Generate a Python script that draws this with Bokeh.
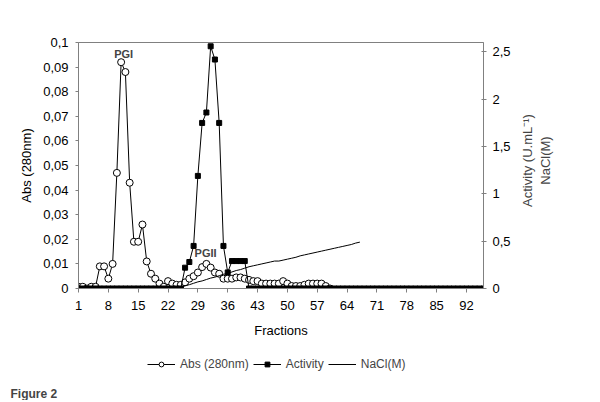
import math
from bokeh.plotting import figure
from bokeh.layouts import column, row
from bokeh.models import Range1d, LinearAxis, FixedTicker, Legend, LegendItem, Label
from bokeh.embed import file_html
from bokeh.resources import INLINE

# ---- data ----
fractions_abs = list(range(1, 61))
abs_280 = [0.0007, 0.0007, 0.0, 0.0007, 0.0007, 0.009, 0.009, 0.004, 0.010, 0.047,
           0.092, 0.088, 0.043, 0.019, 0.019, 0.026, 0.011, 0.006, 0.004, 0.002,
           0.0007, 0.003, 0.002, 0.0015, 0.0015, 0.0025, 0.004, 0.005, 0.0065, 0.0087,
           0.010, 0.0085, 0.0065, 0.006, 0.004, 0.004, 0.004, 0.0045, 0.0045, 0.004,
           0.0035, 0.003, 0.003, 0.002, 0.002, 0.002, 0.002, 0.002, 0.003, 0.002,
           0.001, 0.001, 0.001, 0.0015, 0.002, 0.002, 0.002, 0.002, 0.001, 0.0]

fractions_act = list(range(1, 97))
activity = ([0.0] * 25 +
            [0.22, 0.28, 0.45, 1.19, 1.75, 1.86, 2.56, 2.42, 1.75, 0.45,
             0.17, 0.29, 0.29, 0.29, 0.29] +
            [0.0] * 56)

fractions_nacl = list(range(24, 68))
nacl = [0.0, 0.015, 0.03, 0.04, 0.055, 0.07, 0.08, 0.095, 0.11, 0.12,
        0.135, 0.15, 0.16, 0.175, 0.19, 0.20, 0.215, 0.23, 0.24, 0.25,
        0.26, 0.27, 0.28, 0.29, 0.29, 0.30, 0.31, 0.32, 0.33, 0.345,
        0.355, 0.365, 0.375, 0.385, 0.395, 0.405, 0.415, 0.425, 0.435, 0.445,
        0.455, 0.465, 0.48, 0.49]

x_ticks = [1, 8, 15, 22, 29, 36, 43, 50, 57, 64, 71, 78, 85, 92]
abs_ticks = [0, 0.01, 0.02, 0.03, 0.04, 0.05, 0.06, 0.07, 0.08, 0.09, 0.1]
abs_tick_labels = ["0", "0,01", "0,02", "0,03", "0,04", "0,05", "0,06", "0,07", "0,08", "0,09", "0,1"]
act_ticks = [0, 0.5, 1, 1.5, 2, 2.5]
act_tick_labels = ["0", "0,5", "1", "1,5", "2", "2,5"]
series_names = ["Abs (280nm)", "Activity", "NaCl(M)"]

FONT = "Liberation Sans"
AXIS_GRAY = "#808080"

MAIN_W, MAIN_H = 518, 344
TOTAL_W = 596

p = figure(width=MAIN_W, height=MAIN_H, output_backend="svg", toolbar_location=None,
           x_range=Range1d(1, 96), y_range=Range1d(0, 0.1),
           min_border_left=78, min_border_right=35, min_border_top=42, min_border_bottom=56)
p.extra_y_ranges = {"act": Range1d(0, 2.6)}
p.grid.visible = False
p.outline_line_color = AXIS_GRAY
p.background_fill_color = "white"
p.border_fill_color = "white"

def style_axis(ax):
    ax.axis_line_color = AXIS_GRAY
    ax.major_tick_line_color = AXIS_GRAY
    ax.minor_tick_line_color = None
    ax.major_label_text_font = FONT
    ax.major_label_text_font_size = "13px"
    ax.major_label_text_color = "black"
    ax.axis_label_text_font = FONT
    ax.axis_label_text_font_size = "13px"
    ax.axis_label_text_font_style = "normal"
    ax.axis_label_text_color = "black"

xa = p.xaxis[0]
style_axis(xa)
xa.ticker = FixedTicker(ticks=x_ticks)
xa.major_tick_in = 0
xa.major_tick_out = 4
xa.major_label_standoff = 8
xa.axis_label = "Fractions"
xa.axis_label_standoff = 10

ya = p.yaxis[0]
style_axis(ya)
ya.ticker = FixedTicker(ticks=abs_ticks)
ya.major_label_overrides = dict(zip(abs_ticks, abs_tick_labels))
ya.major_tick_in = 0
ya.major_tick_out = 3
ya.major_label_standoff = 7
ya.axis_label = "Abs (280nm)"
ya.axis_label_standoff = 6

ra = LinearAxis(y_range_name="act", ticker=FixedTicker(ticks=act_ticks))
style_axis(ra)
ra.major_label_overrides = dict(zip(act_ticks, act_tick_labels))
ra.major_tick_in = 2
ra.major_tick_out = 3
ra.major_label_standoff = 6
p.add_layout(ra, "right")

# ---- series ----
p.line(fractions_abs, abs_280, line_color="black", line_width=1)
p.scatter(fractions_abs, abs_280, marker="circle", size=7,
          fill_color="white", line_color="black", line_width=1)
p.line(fractions_act, activity, y_range_name="act", line_color="black", line_width=1)
p.scatter(fractions_act, activity, y_range_name="act", marker="square", size=5,
          fill_color="black", line_color="black")
p.line(fractions_nacl, nacl, y_range_name="act", line_color="black", line_width=1)

p.add_layout(Label(x=11.6, y=0.0955, text="PGI", text_align="center", text_baseline="middle",
                   text_font=FONT, text_font_size="11px", text_font_style="bold"))
p.add_layout(Label(x=30.8, y=0.0146, text="PGII", text_align="center", text_baseline="middle",
                   text_font=FONT, text_font_size="11px", text_font_style="bold"))

# ---- right-hand axis title (reads bottom-to-top, as in the reference) ----
RW = TOTAL_W - MAIN_W
rt = figure(width=RW, height=MAIN_H, output_backend="svg", toolbar_location=None,
            x_range=Range1d(0, RW), y_range=Range1d(0, MAIN_H),
            x_axis_type=None, y_axis_type=None, min_border=0)
rt.outline_line_color = None
rt.add_layout(Label(x=9, y=MAIN_H - 165, text="Activity (U.mL\u207b\u00b9)", angle=math.pi / 2,
                    text_align="center", text_baseline="middle",
                    text_font=FONT, text_font_size="13px"))
rt.add_layout(Label(x=27, y=MAIN_H - 165, text="NaCl(M)", angle=math.pi / 2,
                    text_align="center", text_baseline="middle",
                    text_font=FONT, text_font_size="13px"))

# ---- legend and caption strip ----
BH = 56
bt = figure(width=TOTAL_W, height=BH, output_backend="svg", toolbar_location=None,
            x_range=Range1d(0, TOTAL_W), y_range=Range1d(0, BH),
            x_axis_type=None, y_axis_type=None, min_border=0)
bt.outline_line_color = None
# legend-only proxies (kept outside the visible range of this strip)
off = [-1000]
l_abs = bt.line(off, off, line_color="black", line_width=1)
s_abs = bt.scatter(off, off, marker="circle", size=7, fill_color="white", line_color="black")
l_act = bt.line(off, off, line_color="black", line_width=1)
s_act = bt.scatter(off, off, marker="square", size=5, fill_color="black", line_color="black")
l_nacl = bt.line(off, off, line_color="black", line_width=1)

legend = Legend(items=[
    LegendItem(label=series_names[0], renderers=[l_abs, s_abs]),
    LegendItem(label=series_names[1], renderers=[l_act, s_act]),
    LegendItem(label=series_names[2], renderers=[l_nacl]),
], orientation="horizontal", location=(147, 29))
legend.padding = 0
legend.margin = 0
legend.spacing = 4
legend.glyph_width = 28
legend.glyph_height = 12
legend.label_height = 12
legend.label_standoff = 5
legend.label_text_font = FONT
legend.label_text_font_size = "12px"
legend.label_text_baseline = "middle"
legend.border_line_color = None
legend.background_fill_alpha = 0
bt.add_layout(legend)

bt.add_layout(Label(x=10, y=7, text="Figure 2", text_align="left", text_baseline="middle",
                    text_font=FONT, text_font_size="12px", text_font_style="bold"))

layout = column(row(p, rt), bt)
open("out.html", "w").write(file_html(layout, INLINE))
